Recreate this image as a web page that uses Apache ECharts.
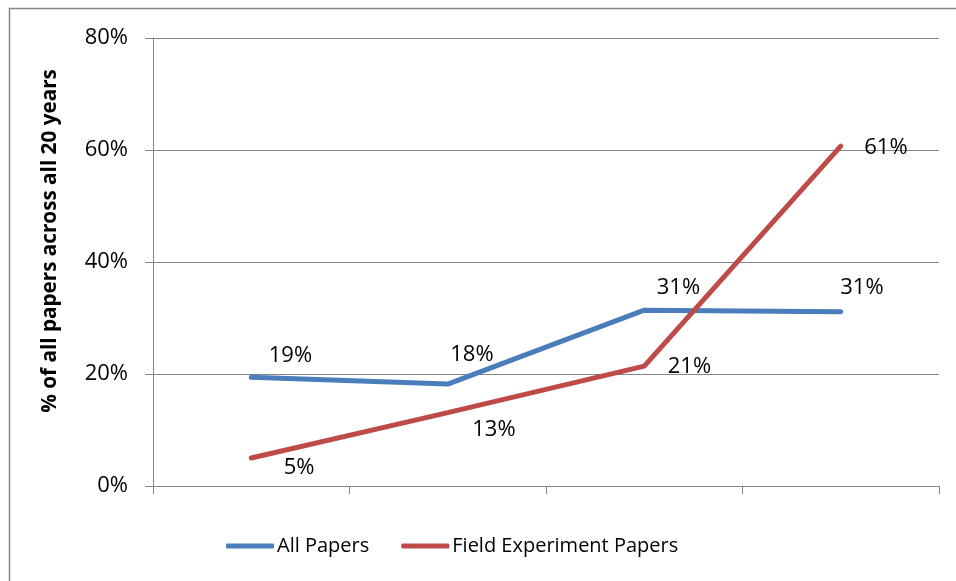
<!DOCTYPE html>
<html>
<head>
<meta charset="utf-8">
<script src="https://cdn.jsdelivr.net/npm/echarts@6/dist/echarts.min.js"></script>
<style>
  html, body { margin: 0; padding: 0; background: #fff; }
  #chart { width: 956px; height: 581px; }
</style>
</head>
<body>
<div id="chart"></div>
<script>
// Four periods along the x axis (unlabelled)
const periods = ['P1', 'P2', 'P3', 'P4'];

// Share of papers, in percent
const allPapers = [19.4, 18.2, 31.4, 31.1];
const fieldExperimentPapers = [5.0, 13.1, 21.4, 60.7];

// Y axis ticks
const yMin = 0;
const yMax = 80;
const yStep = 20;

// Label nudges (px) relative to each point: [dx to text start, dy to text middle]
const allOffsets = [[17, -22], [2, -29], [12, -22], [-1, -24]];
const fieldOffsets = [[32, 10], [24, 17], [23, 1], [23, 2]];

const FONT = '"Open Sans", "Liberation Sans", sans-serif';
const GRID = '#868686';
const BLUE = '#4A7EBB';
const RED = '#BE4B48';

function withLabels(values, offsets) {
  return values.map((v, i) => ({
    value: v,
    label: { offset: offsets[i] }
  }));
}

const labelBase = {
  show: true,
  position: 'right',
  distance: 0,
  align: 'left',
  verticalAlign: 'middle',
  fontFamily: FONT,
  fontSize: 22,
  color: '#000',
  formatter: p => Math.round(p.value) + '%'
};

const chart = echarts.init(document.getElementById('chart'));
chart.setOption({
  animation: false,
  backgroundColor: '#fff',
  grid: { left: 153, right: 17, top: 38, bottom: 95, containLabel: false },
  xAxis: {
    type: 'category',
    data: periods,
    boundaryGap: true,
    axisLine: { show: true, lineStyle: { color: GRID, width: 1 } },
    axisTick: { show: true, length: 8, lineStyle: { color: GRID } },
    axisLabel: { show: false },
    splitLine: { show: false }
  },
  yAxis: {
    type: 'value',
    min: yMin,
    max: yMax,
    interval: yStep,
    axisLine: { show: true, lineStyle: { color: GRID, width: 1 } },
    axisTick: { show: true, length: 8, lineStyle: { color: GRID } },
    axisLabel: {
      margin: 25,
      fontFamily: FONT,
      fontSize: 22,
      color: '#000',
      formatter: v => v + '%'
    },
    splitLine: { show: true, lineStyle: { color: GRID, width: 1 } }
  },
  legend: {
    left: 226,
    top: 536,
    padding: 0,
    itemWidth: 48,
    itemHeight: 5,
    itemGap: 32,
    icon: 'roundRect',
    textStyle: { fontFamily: FONT, fontSize: 20, color: '#000', padding: [0, 0, 0, -2] },
    data: ['All Papers', 'Field Experiment Papers']
  },
  graphic: [
    {
      type: 'rect',
      shape: { x: 9.5, y: 8.5, width: 1200, height: 1200 },
      style: { fill: 'none', stroke: GRID, lineWidth: 1.5 },
      silent: true
    },
    {
      type: 'text',
      x: 50,
      y: 241,
      rotation: Math.PI / 2,
      style: {
        text: '% of all papers across all 20 years',
        fontFamily: FONT,
        fontSize: 20.7,
        fontWeight: 'bold',
        fill: '#000',
        align: 'center',
        verticalAlign: 'middle'
      }
    }
  ],
  series: [
    {
      name: 'All Papers',
      type: 'line',
      data: withLabels(allPapers, allOffsets),
      symbol: 'circle',
      symbolSize: 1,
      showSymbol: true,
      itemStyle: { color: BLUE },
      lineStyle: { color: BLUE, width: 5, cap: 'round', join: 'round' },
      label: labelBase,
      z: 3
    },
    {
      name: 'Field Experiment Papers',
      type: 'line',
      data: withLabels(fieldExperimentPapers, fieldOffsets),
      symbol: 'circle',
      symbolSize: 1,
      showSymbol: true,
      itemStyle: { color: RED },
      lineStyle: { color: RED, width: 5, cap: 'round', join: 'round' },
      label: labelBase,
      z: 4
    }
  ]
});
</script>
</body>
</html>
